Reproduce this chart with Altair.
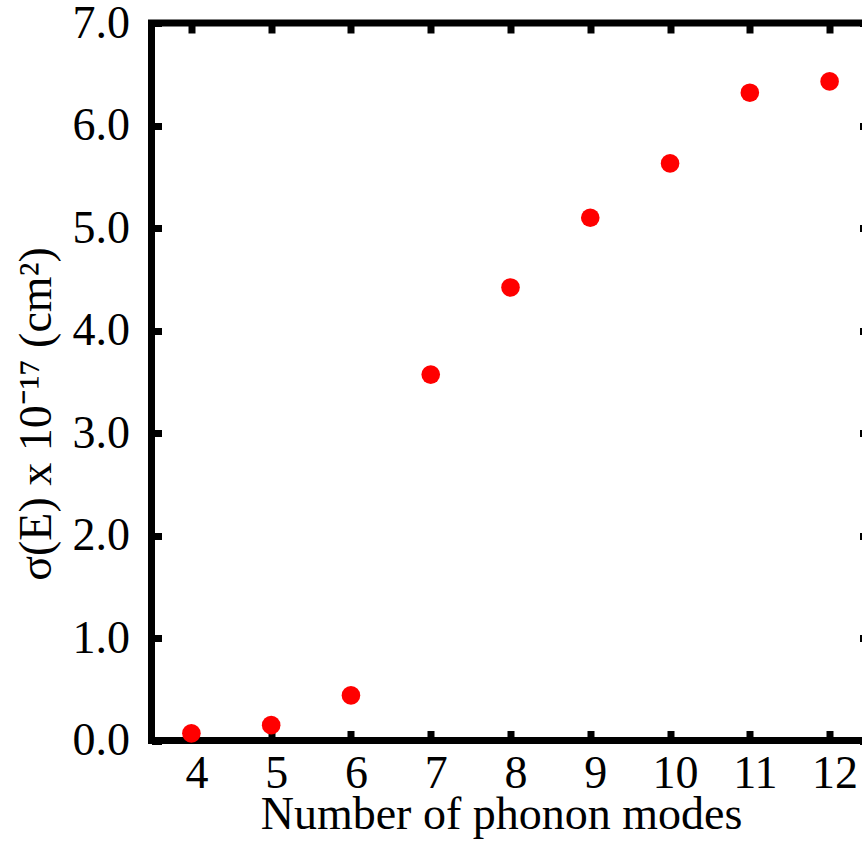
import altair as alt
import pandas as pd

# data
modes = [4, 5, 6, 7, 8, 9, 10, 11, 12]
sigma = [0.07, 0.15, 0.44, 3.57, 4.42, 5.10, 5.63, 6.32, 6.43]
x_ticks = [4, 5, 6, 7, 8, 9, 10, 11, 12]
y_ticks = [0, 1, 2, 3, 4, 5, 6, 7]

df = pd.DataFrame({"modes": modes, "sigma": sigma})

FONT = "Liberation Serif"
FS = 46
TICK = 10
TW = 7

xs = alt.Scale(domain=[3.5, 12.5], nice=False, zero=False)
ys = alt.Scale(domain=[0, 7], nice=False, zero=False)

base = alt.Chart(df)

points = base.mark_circle(size=346, color="#ff0000", opacity=1).encode(
    x=alt.X(
        "modes:Q",
        scale=xs,
        axis=alt.Axis(
            orient="bottom", values=x_ticks, format="d", grid=False,
            domain=False, ticks=True, tickSize=TICK, offset=-TICK,
            tickWidth=TW, tickColor="black",
            labelPadding=11, labelOffset=5, labelFont=FONT, labelFontSize=FS,
            labelColor="black",
            title="Number of phonon modes", titleFont=FONT, titleFontSize=FS,
            titleFontWeight="normal", titleColor="black",
            titleX=349.5, titleY=97.5, titleBaseline="alphabetic",
            titleAlign="center",
        ),
    ),
    y=alt.Y(
        "sigma:Q",
        scale=ys,
        axis=alt.Axis(
            orient="left", values=y_ticks, format=".1f", grid=False,
            domain=False, ticks=True, tickSize=TICK, offset=-TICK,
            tickWidth=TW, tickColor="black",
            labelPadding=22, labelFont=FONT, labelFontSize=FS,
            labelColor="black",
            title="σ(E) x 10⁻¹⁷ (cm²)", titleFont=FONT, titleFontSize=FS,
            titleFontWeight="normal", titleColor="black",
            titleAngle=270, titleX=-111.5, titleY=390.5,
            titleBaseline="alphabetic", titleAlign="center",
        ),
    ),
)

ghost = base.mark_circle(opacity=0).encode(
    x=alt.X(
        "modes:Q",
        scale=xs,
        axis=alt.Axis(
            orient="top", values=x_ticks, grid=False, domain=False,
            labels=False, ticks=True, tickSize=TICK, offset=-TICK,
            tickWidth=TW, tickColor="black", title=None,
        ),
    ),
    y=alt.Y(
        "sigma:Q",
        scale=ys,
        axis=alt.Axis(
            orient="right", values=y_ticks, grid=False, domain=False,
            labels=False, ticks=True, tickSize=TICK, offset=-TICK,
            tickWidth=TW, tickColor="black", title=None,
        ),
    ),
)

chart = (
    alt.layer(points, ghost)
    .resolve_scale(x="independent", y="independent")
    .properties(
        width=718,
        height=717.5,
        autosize=alt.AutoSizeParams(type="none"),
        padding={"left": 151.5, "top": 23, "right": -7.5, "bottom": 109.5},
        background="white",
    )
    .configure_view(stroke="black", strokeWidth=TW)
)

chart.save("out.html", embed_options={"renderer": "svg", "actions": False})
